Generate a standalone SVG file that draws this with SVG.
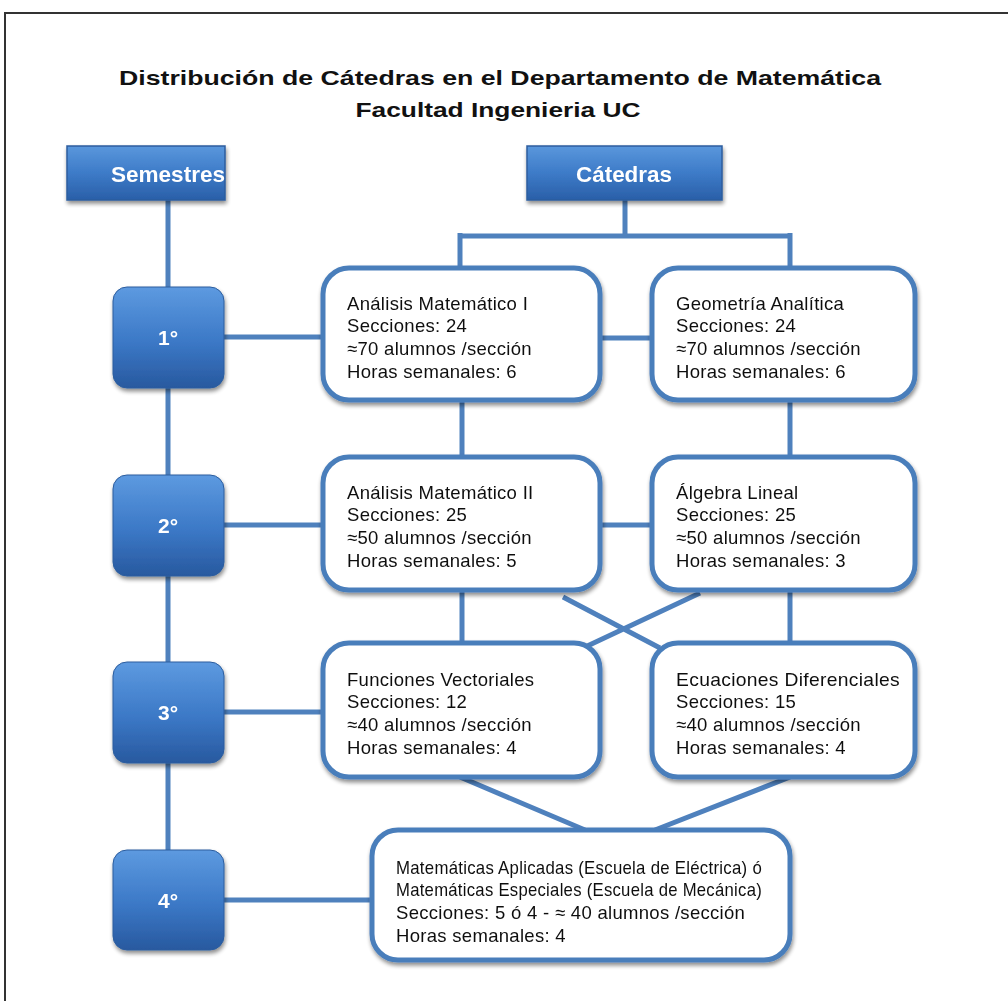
<svg xmlns="http://www.w3.org/2000/svg" width="1008" height="1001" viewBox="0 0 1008 1001">
<defs>
<linearGradient id="hdr" x1="0" y1="0" x2="0" y2="1">
<stop offset="0" stop-color="#5a97dc"/>
<stop offset="0.5" stop-color="#3d7bc8"/>
<stop offset="1" stop-color="#2a5fa8"/>
</linearGradient>
<linearGradient id="sem" x1="0" y1="0" x2="0" y2="1">
<stop offset="0" stop-color="#5d9ae0"/>
<stop offset="0.55" stop-color="#3b78c6"/>
<stop offset="1" stop-color="#28599f"/>
</linearGradient>
<filter id="sh" x="-20%" y="-20%" width="140%" height="140%">
<feGaussianBlur in="SourceAlpha" stdDeviation="2"/>
<feOffset dx="1" dy="3" result="o"/>
<feComponentTransfer><feFuncA type="linear" slope="0.45"/></feComponentTransfer>
<feMerge><feMergeNode/><feMergeNode in="SourceGraphic"/></feMerge>
</filter>
</defs>
<style>
.title{font-family:"Liberation Sans",Arial,sans-serif;font-weight:bold;font-size:21px;fill:#111;text-anchor:middle}
.hdrtxt{font-family:"Liberation Sans",Arial,sans-serif;font-weight:bold;font-size:22px;fill:#fff;text-anchor:middle}
.semtxt{font-family:"Liberation Sans",Arial,sans-serif;font-weight:bold;font-size:21px;fill:#fff;text-anchor:middle}
.hdr{fill:url(#hdr);stroke:#2c5d9e;stroke-width:1.5}
.sem{fill:url(#sem);stroke:#2c5d9e;stroke-width:1}
.box{fill:#fff;stroke:#4a7ebb;stroke-width:5}
.t{font-family:"Liberation Sans",Arial,sans-serif;font-size:18.5px;letter-spacing:0.3px;fill:#111}
.c{stroke:#4f81bd;stroke-width:5;fill:none}
</style>
<rect x="0" y="0" width="1008" height="1001" fill="#fff"/>
<rect x="5" y="13" width="1012" height="1000" fill="none" stroke="#333" stroke-width="2"/>
<text class="title" x="500" y="85" textLength="762" lengthAdjust="spacingAndGlyphs">Distribución de Cátedras en el Departamento de Matemática</text>
<text class="title" x="498" y="117" textLength="285" lengthAdjust="spacingAndGlyphs">Facultad Ingenieria UC</text>
<g id="connectors">
<path class="c" d="M168 200 V851"/>
<path class="c" d="M625 200 V236 M460 236 H790 M460 233 V268 M790 233 V268"/>
<path class="c" d="M224 337 H323 M600 338 H652"/>
<path class="c" d="M462 400 V457 M790 400 V457"/>
<path class="c" d="M224 525 H323 M600 525 H652"/>
<path class="c" d="M462 590 V643 M790 590 V643"/>
<path class="c" d="M563 597 L660 648 M700 593 L583 648"/>
<path class="c" d="M224 712 H323"/>
<path class="c" d="M460 777 L585 830 M790 777 L655 830"/>
<path class="c" d="M224 900 H372"/>
</g>
<g id="semestres" filter="url(#sh)"><rect class="hdr" x="67" y="146" width="158" height="54"/><text class="hdrtxt" x="168" y="182" textLength="114" lengthAdjust="spacingAndGlyphs">Semestres</text></g>
<g id="catedras" filter="url(#sh)"><rect class="hdr" x="527" y="146" width="195" height="54"/><text class="hdrtxt" x="624" y="182" textLength="96" lengthAdjust="spacingAndGlyphs">Cátedras</text></g>
<g id="s1" filter="url(#sh)"><rect class="sem" x="113" y="287" width="111" height="101" rx="14"/><text class="semtxt" x="168" y="345">1°</text></g>
<g id="s2" filter="url(#sh)"><rect class="sem" x="113" y="475" width="111" height="101" rx="14"/><text class="semtxt" x="168" y="533">2°</text></g>
<g id="s3" filter="url(#sh)"><rect class="sem" x="113" y="662" width="111" height="101" rx="14"/><text class="semtxt" x="168" y="720">3°</text></g>
<g id="s4" filter="url(#sh)"><rect class="sem" x="113" y="850" width="111" height="100" rx="14"/><text class="semtxt" x="168" y="908">4°</text></g>
<g id="am1" filter="url(#sh)"><rect class="box" x="323" y="268" width="277" height="132" rx="26"/>
<text class="t" x="347" y="310">Análisis Matemático I</text><text class="t" x="347" y="332">Secciones: 24</text><text class="t" x="347" y="355">≈70 alumnos /sección</text><text class="t" x="347" y="378">Horas semanales: 6</text></g>
<g id="geo" filter="url(#sh)"><rect class="box" x="652" y="268" width="263" height="132" rx="26"/>
<text class="t" x="676" y="310">Geometría  Analítica</text><text class="t" x="676" y="332">Secciones: 24</text><text class="t" x="676" y="355">≈70 alumnos /sección</text><text class="t" x="676" y="378">Horas semanales: 6</text></g>
<g id="am2" filter="url(#sh)"><rect class="box" x="323" y="457" width="277" height="133" rx="26"/>
<text class="t" x="347" y="499">Análisis Matemático II</text><text class="t" x="347" y="521">Secciones: 25</text><text class="t" x="347" y="544">≈50 alumnos /sección</text><text class="t" x="347" y="567">Horas semanales: 5</text></g>
<g id="alg" filter="url(#sh)"><rect class="box" x="652" y="457" width="263" height="133" rx="26"/>
<text class="t" x="676" y="499">Álgebra Lineal</text><text class="t" x="676" y="521">Secciones: 25</text><text class="t" x="676" y="544">≈50 alumnos /sección</text><text class="t" x="676" y="567">Horas semanales: 3</text></g>
<g id="fv" filter="url(#sh)"><rect class="box" x="323" y="643" width="277" height="134" rx="26"/>
<text class="t" x="347" y="686">Funciones Vectoriales</text><text class="t" x="347" y="708">Secciones: 12</text><text class="t" x="347" y="731">≈40 alumnos /sección</text><text class="t" x="347" y="754">Horas semanales: 4</text></g>
<g id="ed" filter="url(#sh)"><rect class="box" x="652" y="643" width="263" height="134" rx="26"/>
<text class="t" x="676" y="686" textLength="224" lengthAdjust="spacingAndGlyphs">Ecuaciones Diferenciales</text><text class="t" x="676" y="708">Secciones: 15</text><text class="t" x="676" y="731">≈40 alumnos /sección</text><text class="t" x="676" y="754">Horas semanales: 4</text></g>
<g id="ma" filter="url(#sh)"><rect class="box" x="372" y="830" width="418" height="130" rx="26"/>
<text class="t" x="396" y="874" textLength="366" lengthAdjust="spacingAndGlyphs">Matemáticas Aplicadas (Escuela de Eléctrica) ó</text><text class="t" x="396" y="896" textLength="366" lengthAdjust="spacingAndGlyphs">Matemáticas Especiales (Escuela de Mecánica)</text><text class="t" x="396" y="919">Secciones: 5 ó 4 - ≈ 40 alumnos /sección</text><text class="t" x="396" y="942">Horas semanales: 4</text></g>
</svg>
